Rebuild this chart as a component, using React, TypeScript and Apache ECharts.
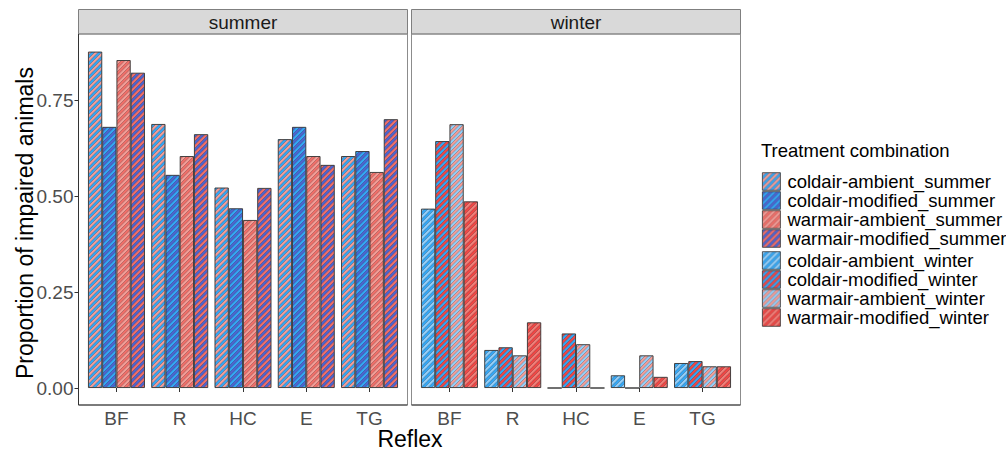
import React, { useEffect, useRef } from 'react';
import * as echarts from 'echarts';

const categories = ['BF', 'R', 'HC', 'E', 'TG'];
const yTicks = [0, 0.25, 0.5, 0.75];

const summerNames = [
  'coldair-ambient_summer',
  'coldair-modified_summer',
  'warmair-ambient_summer',
  'warmair-modified_summer',
];
const winterNames = [
  'coldair-ambient_winter',
  'coldair-modified_winter',
  'warmair-ambient_winter',
  'warmair-modified_winter',
];

const coldairAmbientSummer = [0.876, 0.6875, 0.522, 0.648, 0.604];
const coldairModifiedSummer = [0.68, 0.555, 0.468, 0.68, 0.617];
const warmairAmbientSummer = [0.854, 0.604, 0.4375, 0.604, 0.5625];
const warmairModifiedSummer = [0.821, 0.661, 0.521, 0.581, 0.7];

const coldairAmbientWinter = [0.467, 0.099, 0, 0.033, 0.065];
const coldairModifiedWinter = [0.643, 0.106, 0.142, 0, 0.07];
const warmairAmbientWinter = [0.687, 0.085, 0.114, 0.085, 0.0565];
const warmairModifiedWinter = [0.486, 0.171, 0, 0.029, 0.0565];

const summerValues = [coldairAmbientSummer, coldairModifiedSummer, warmairAmbientSummer, warmairModifiedSummer];
const winterValues = [coldairAmbientWinter, coldairModifiedWinter, warmairAmbientWinter, warmairModifiedWinter];

const BLUE = '#34a6f4';
const PINK = '#f29d97';
const PURPLE = '#4c64d0';
const SALMON = '#f06e68';
const LIGHTBLUE = '#94cef8';
const RED = '#f04644';
const LIGHTRED = '#f27e78';

const summerColors: [string, string][] = [
  [BLUE, PINK],
  [BLUE, PURPLE],
  [PINK, SALMON],
  [SALMON, PURPLE],
];
const winterColors: [string, string][] = [
  [BLUE, LIGHTBLUE],
  [BLUE, RED],
  [LIGHTBLUE, PINK],
  [RED, LIGHTRED],
];

const FONT = "'Liberation Sans', Arial, sans-serif";

// seamless diagonal two-colour stripe tile (drawn at 4x inside, shown at 7px)
function stripe(c1: string, c2: string) {
  const s = 7;
  const k = 4;
  const S = s * k;
  const h = S / 2;
  const lines = [0, h, S, S + h, 2 * S]
    .map((c) => `<line x1='${c + 4}' y1='-4' x2='-4' y2='${c + 4}'/>`)
    .join('');
  const svg =
    `<svg xmlns='http://www.w3.org/2000/svg' width='${s}' height='${s}' viewBox='0 0 ${S} ${S}'>` +
    `<rect width='${S}' height='${S}' fill='${c1}'/>` +
    `<polygon points='0,0 ${h},0 0,${h}' fill='${c2}'/>` +
    `<polygon points='${S},0 ${S},${h} ${h},${S} 0,${S}' fill='${c2}'/>` +
    `<g stroke='#2b2b2b' stroke-opacity='0.55' stroke-width='2'>${lines}</g></svg>`;
  return {
    image: 'data:image/svg+xml;charset=utf-8,' + encodeURIComponent(svg),
    repeat: 'repeat',
    imageWidth: s,
    imageHeight: s,
  };
}

// layout (pixels)
const PANEL_TOP = 34;
const PANEL_BOTTOM = 405;
const ZERO_Y = 388;
const PX_PER_UNIT = 384;
const PANEL_W = 329;
const SUMMER_X = 78.5;
const WINTER_X = 411.5;
const unit = PANEL_W / 5.2;
const dataW = unit * 5;
const inset = (PANEL_W - dataW) / 2;
const yMax = (ZERO_Y - PANEL_TOP) / PX_PER_UNIT;

function makeOption() {
  const gridCommon = { top: PANEL_TOP, height: ZERO_Y - PANEL_TOP, width: dataW };
  const xAxisBase = (gridIndex: number) => ({
    type: 'category',
    gridIndex,
    data: categories,
    boundaryGap: true,
    offset: PANEL_BOTTOM - ZERO_Y,
    axisLine: { show: false },
    axisTick: { show: true, alignWithLabel: true, length: 4, lineStyle: { color: '#333' } },
    axisLabel: { fontSize: 19, color: '#4d4d4d', margin: 4, fontFamily: FONT },
    splitLine: { show: false },
  });
  const yAxisBase = (gridIndex: number, show: boolean) => ({
    type: 'value',
    gridIndex,
    min: 0,
    max: yMax,
    interval: 0.25,
    show,
    offset: inset,
    axisLine: { show: false },
    axisTick: { show: true, length: 4, lineStyle: { color: '#333' }, customValues: yTicks },
    axisLabel: {
      fontSize: 19,
      color: '#4d4d4d',
      margin: 5,
      fontFamily: FONT,
      customValues: yTicks,
      formatter: (v: number) => v.toFixed(2),
    },
    splitLine: { show: false },
  });

  const mk = (name: string, data: number[], colors: [string, string], idx: number) => ({
    type: 'bar',
    name,
    data,
    xAxisIndex: idx,
    yAxisIndex: idx,
    barGap: '0%',
    barCategoryGap: '10%',
    itemStyle: { color: stripe(colors[0], colors[1]), borderColor: '#333', borderWidth: 0.9 },
    emphasis: { disabled: true },
  });

  const series = [
    ...summerNames.map((n, i) => mk(n, summerValues[i], summerColors[i], 0)),
    ...winterNames.map((n, i) => mk(n, winterValues[i], winterColors[i], 1)),
  ];

  const legendBase = {
    orient: 'vertical',
    left: 762,
    itemWidth: 18,
    itemHeight: 17.6,
    itemGap: 0,
    padding: 0,
    icon: 'rect',
    selectedMode: false,
    itemStyle: { borderColor: '#333', borderWidth: 0.8 },
    textStyle: { fontSize: 18.5, color: '#000', fontFamily: FONT, lineHeight: 17.6, padding: [0, 0, 0, 2] },
  };

  const strip = (x: number, label: string) => [
    {
      type: 'rect',
      shape: { x, y: 9.5, width: PANEL_W, height: PANEL_TOP - 9.5 },
      style: { fill: '#d9d9d9', stroke: '#7f7f7f', lineWidth: 1 },
      z: 10,
    },
    {
      type: 'text',
      x: x + PANEL_W / 2,
      y: (9.5 + PANEL_TOP) / 2 + 0.5,
      style: { text: label, fill: '#1a1a1a', fontSize: 19, fontFamily: FONT, align: 'center', verticalAlign: 'middle' },
      z: 11,
    },
    {
      type: 'rect',
      shape: { x, y: PANEL_TOP, width: PANEL_W, height: PANEL_BOTTOM - PANEL_TOP },
      style: { fill: 'none', stroke: '#8c8c8c', lineWidth: 1 },
      z: 10,
    },
    {
      type: 'line',
      shape: { x1: x, y1: PANEL_BOTTOM, x2: x + PANEL_W, y2: PANEL_BOTTOM },
      style: { stroke: '#333', lineWidth: 1 },
      z: 11,
    },
  ];

  return {
    animation: false,
    backgroundColor: '#ffffff',
    grid: [
      { ...gridCommon, left: SUMMER_X + inset },
      { ...gridCommon, left: WINTER_X + inset },
    ],
    xAxis: [xAxisBase(0), xAxisBase(1)],
    yAxis: [yAxisBase(0, true), yAxisBase(1, false)],
    legend: [
      { ...legendBase, top: 172, data: summerNames },
      { ...legendBase, top: 251, data: winterNames },
    ],
    series,
    graphic: [
      ...strip(SUMMER_X, 'summer'),
      ...strip(WINTER_X, 'winter'),
      {
        type: 'line',
        shape: { x1: SUMMER_X, y1: PANEL_TOP, x2: SUMMER_X, y2: PANEL_BOTTOM },
        style: { stroke: '#333', lineWidth: 1 },
        z: 11,
      },
      {
        type: 'text',
        x: 25,
        y: 223,
        rotation: Math.PI / 2,
        style: {
          text: 'Proportion of impaired animals',
          fill: '#000',
          fontSize: 23,
          fontFamily: FONT,
          align: 'center',
          verticalAlign: 'middle',
        },
      },
      {
        type: 'text',
        x: 410,
        y: 439,
        style: { text: 'Reflex', fill: '#000', fontSize: 23, fontFamily: FONT, align: 'center', verticalAlign: 'middle' },
      },
      {
        type: 'text',
        x: 761,
        y: 150,
        style: {
          text: 'Treatment combination',
          fill: '#000',
          fontSize: 18.5,
          fontFamily: FONT,
          align: 'left',
          verticalAlign: 'middle',
        },
      },
    ],
  };
}

export default function App() {
  const ref = useRef<HTMLDivElement>(null);
  useEffect(() => {
    document.body.style.margin = '0';
    const chart = echarts.init(ref.current!, null, { renderer: 'svg' });
    chart.setOption(makeOption() as any);
    return () => chart.dispose();
  }, []);
  return <div ref={ref} style={{ width: 1006, height: 452 }} />;
}
